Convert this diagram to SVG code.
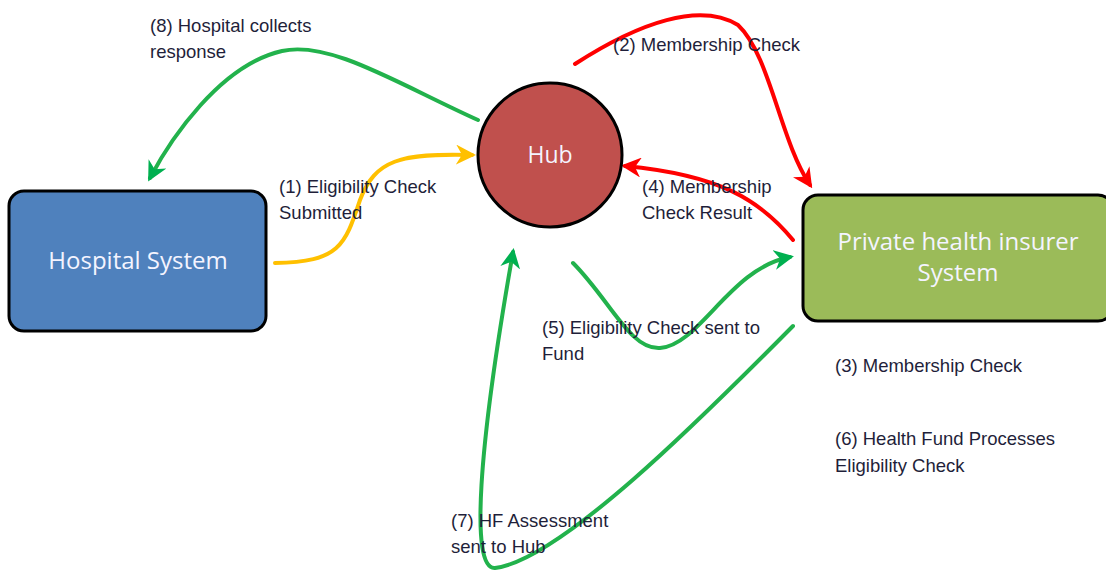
<svg xmlns="http://www.w3.org/2000/svg" width="1106" height="572" viewBox="0 0 1106 572">
<style>
.lbl{font-family:"Liberation Sans","Noto Sans",sans-serif;font-size:18.5px;fill:#1f1f3a}
.nt{font-family:"Open Sans","Noto Sans",sans-serif;font-size:24px;fill:#f4f4ff;text-anchor:middle}
.c{fill:none;stroke-width:4;stroke-linecap:round}
</style>
<defs>
<marker id="ay" viewBox="0 0 10 10" refX="8" refY="5" markerWidth="5" markerHeight="5" orient="auto" markerUnits="strokeWidth"><path d="M0,0 L10,5 L0,10 L3,5 z" fill="#FFC000"/></marker>
<marker id="ar" viewBox="0 0 10 10" refX="8" refY="5" markerWidth="5" markerHeight="5" orient="auto" markerUnits="strokeWidth"><path d="M0,0 L10,5 L0,10 L3,5 z" fill="#FF0000"/></marker>
<marker id="ag" viewBox="0 0 10 10" refX="8" refY="5" markerWidth="5" markerHeight="5" orient="auto" markerUnits="strokeWidth"><path d="M0,0 L10,5 L0,10 L3,5 z" fill="#00B050"/></marker>
</defs>
<g id="connectors">
<path class="c" stroke="#FFC000" marker-end="url(#ay)" d="M275,263 C340,262 345,245 360,200 C375,160 400,153 472,155"/>
<path class="c" stroke="#FF0000" marker-end="url(#ar)" d="M575,64 C640,22 700,2 738,25 C770,55 780,140 810,185"/>
<path class="c" stroke="#FF0000" marker-end="url(#ar)" d="M793,240 C760,200 720,175 625,166"/>
<path class="c" stroke="#22B24C" marker-end="url(#ag)" d="M573,263 C610,300 630,350 660,348 C700,345 730,268 790,257"/>
<path class="c" stroke="#22B24C" marker-end="url(#ag)" d="M793,326 C700,420 560,560 495,568 C470,570 478,450 513,252"/>
<path class="c" stroke="#22B24C" marker-end="url(#ag)" d="M478,120 C400,85 330,40 282,51 C220,65 170,140 150,178"/>
</g>
<g id="hospital">
<rect x="9" y="191" width="257" height="140" rx="15" fill="#4F81BD" stroke="#000" stroke-width="3"/>
<text class="nt" x="138" y="269">Hospital System</text>
</g>
<g id="hub">
<circle cx="550" cy="155" r="72" fill="#C0504D" stroke="#000" stroke-width="3"/>
<text class="nt" x="550" y="163" style="font-size:23px">Hub</text>
</g>
<g id="insurer">
<rect x="803" y="195" width="310" height="126" rx="15" fill="#9BBB59" stroke="#000" stroke-width="3"/>
<text class="nt" x="958" y="250">Private health insurer</text>
<text class="nt" x="958" y="281">System</text>
</g>
<g id="labels">
<text class="lbl" x="150" y="32">(8) Hospital collects</text>
<text class="lbl" x="150" y="58">response</text>
<text class="lbl" x="613" y="51">(2) Membership Check</text>
<text class="lbl" x="279" y="193">(1) Eligibility Check</text>
<text class="lbl" x="279" y="219">Submitted</text>
<text class="lbl" x="642" y="193">(4) Membership</text>
<text class="lbl" x="642" y="219">Check Result</text>
<text class="lbl" x="542" y="334">(5) Eligibility Check sent  to</text>
<text class="lbl" x="542" y="360">Fund</text>
<text class="lbl" x="835" y="372">(3) Membership Check</text>
<text class="lbl" x="835" y="445">(6) Health Fund Processes</text>
<text class="lbl" x="835" y="472">Eligibility Check</text>
<text class="lbl" x="451" y="527">(7) HF Assessment</text>
<text class="lbl" x="451" y="553">sent to Hub</text>
</g>
</svg>
